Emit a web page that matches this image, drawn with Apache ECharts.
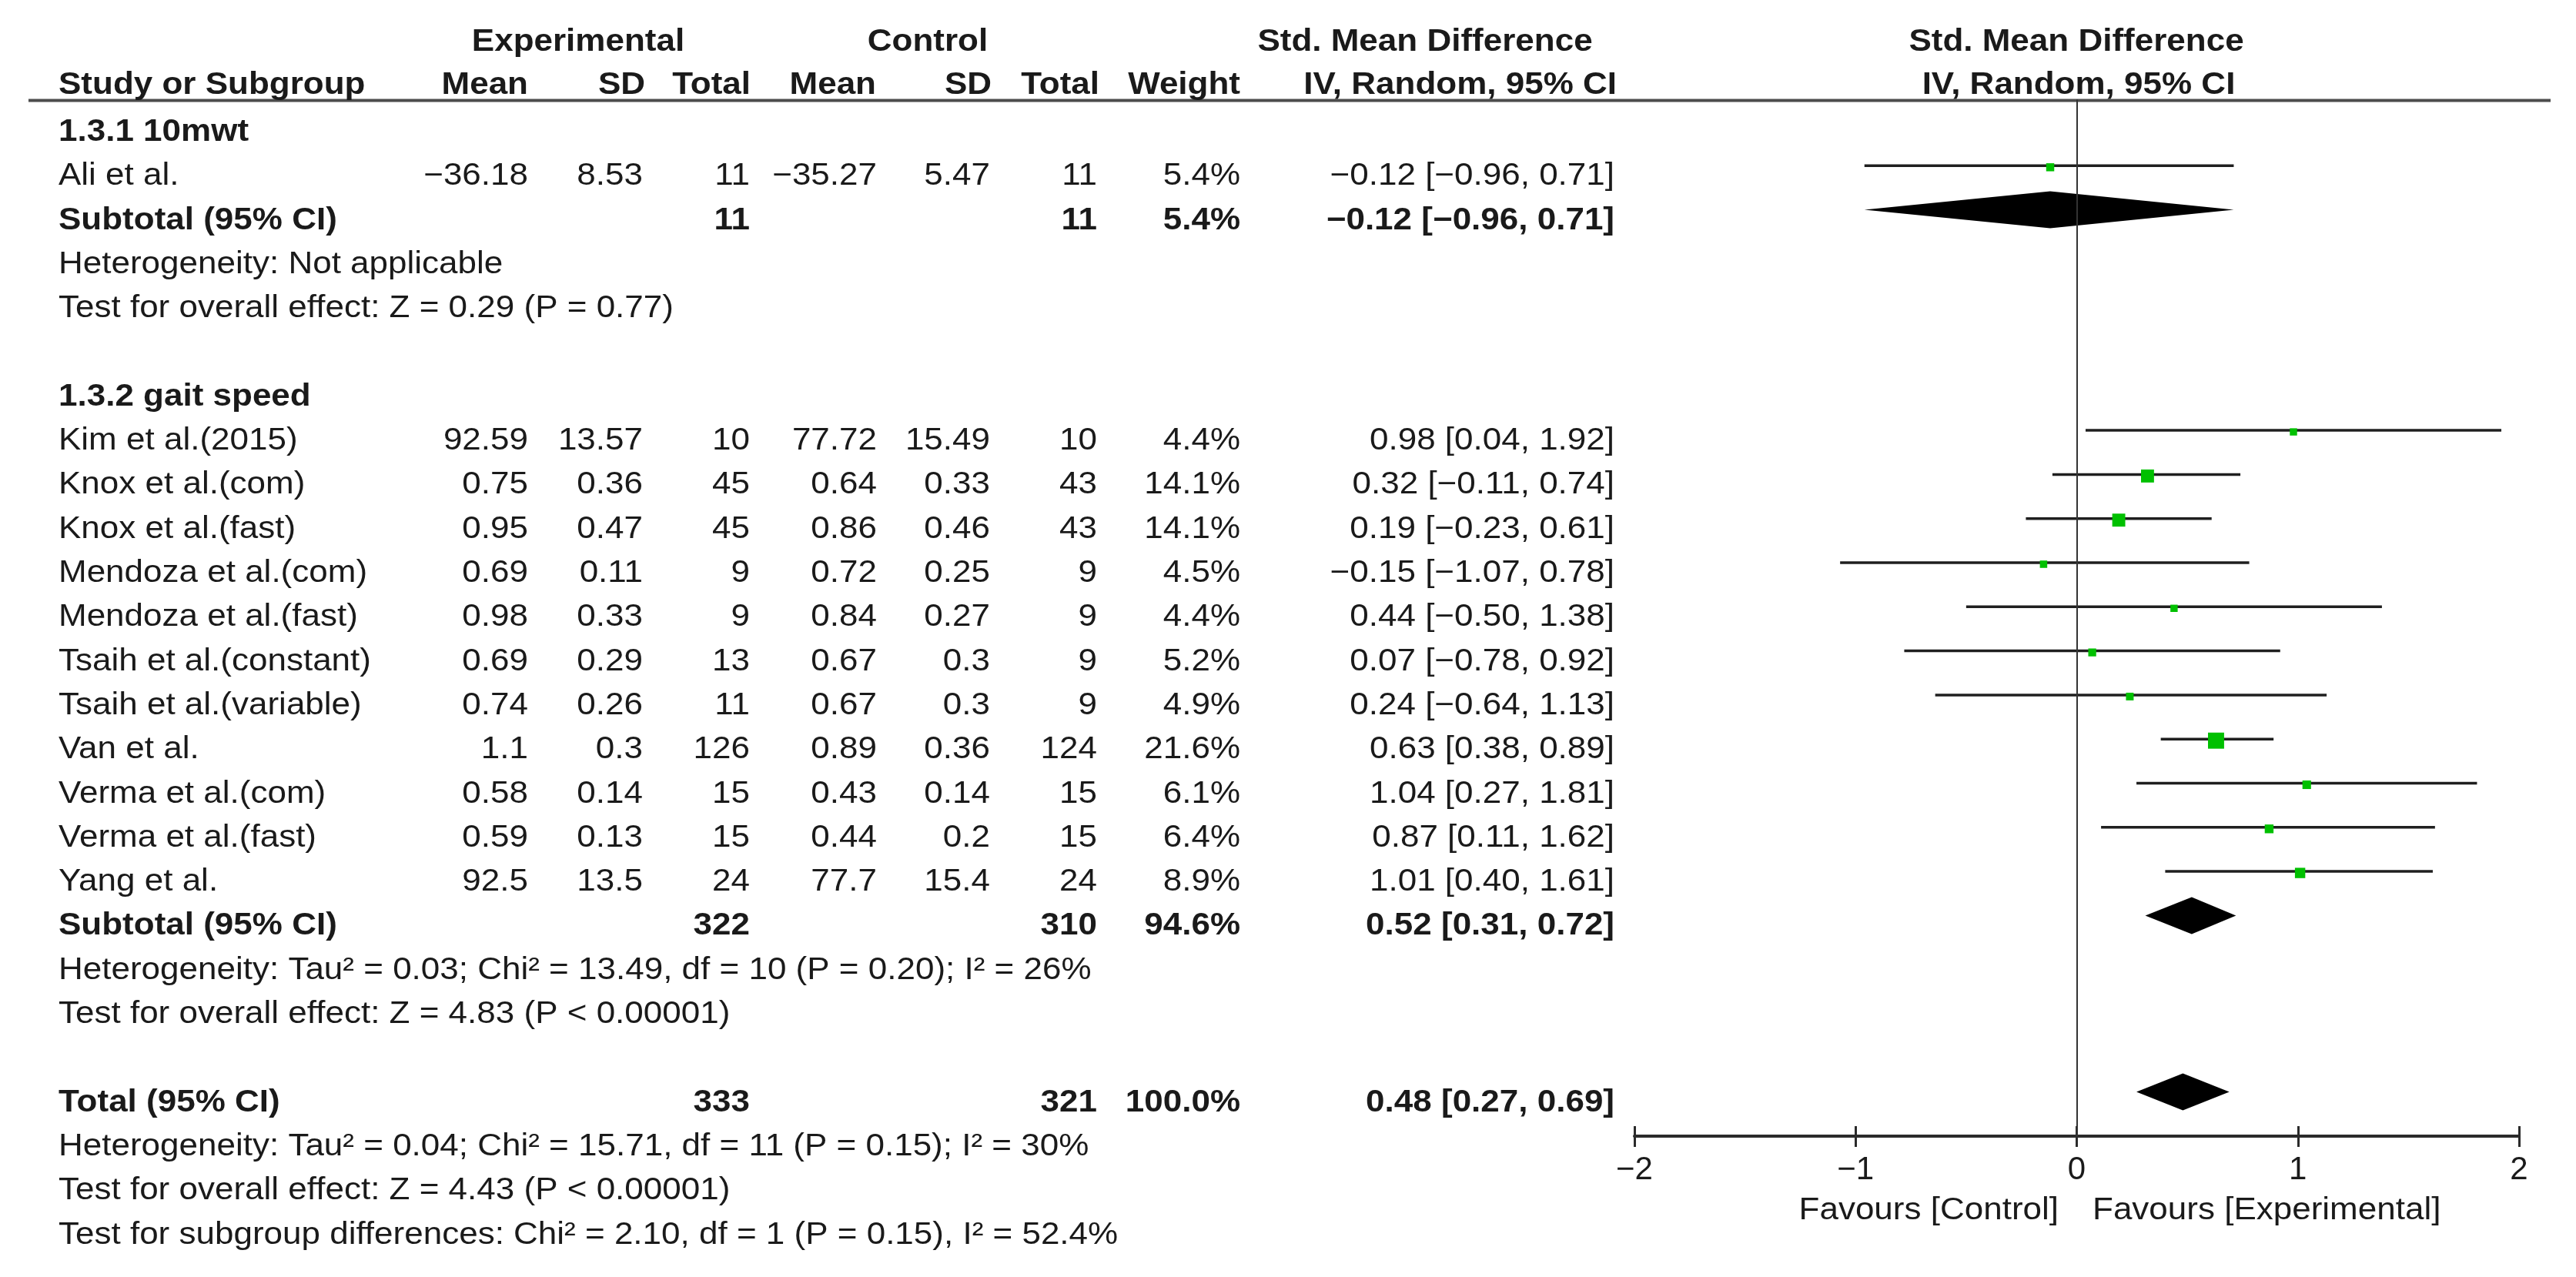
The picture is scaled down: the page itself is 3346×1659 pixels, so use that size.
<!DOCTYPE html>
<html>
<head>
<meta charset="utf-8">
<script src="https://cdn.jsdelivr.net/npm/echarts@6/dist/echarts.min.js"></script>
<style>
html, body { margin: 0; padding: 0; background: #fff; }
#chart { width: 3346px; height: 1659px; }
</style>
</head>
<body>
<div id="chart"></div>
<script>
// study rows
var studyNames = ['Ali et al.', 'Kim et al.(2015)', 'Knox et al.(com)', 'Knox et al.(fast)', 'Mendoza et al.(com)',
    'Mendoza et al.(fast)', 'Tsaih et al.(constant)', 'Tsaih et al.(variable)', 'Van et al.', 'Verma et al.(com)',
    'Verma et al.(fast)', 'Yang et al.'];
var studyRows = [1, 7, 8, 9, 10, 11, 12, 13, 14, 15, 16, 17];
var expMean = [-36.18, 92.59, 0.75, 0.95, 0.69, 0.98, 0.69, 0.74, 1.1, 0.58, 0.59, 92.5];
var expSD = [8.53, 13.57, 0.36, 0.47, 0.11, 0.33, 0.29, 0.26, 0.3, 0.14, 0.13, 13.5];
var expTotal = [11, 10, 45, 45, 9, 9, 13, 11, 126, 15, 15, 24];
var ctlMean = [-35.27, 77.72, 0.64, 0.86, 0.72, 0.84, 0.67, 0.67, 0.89, 0.43, 0.44, 77.7];
var ctlSD = [5.47, 15.49, 0.33, 0.46, 0.25, 0.27, 0.3, 0.3, 0.36, 0.14, 0.2, 15.4];
var ctlTotal = [11, 10, 43, 43, 9, 9, 9, 9, 124, 15, 15, 24];
var weight = [5.4, 4.4, 14.1, 14.1, 4.5, 4.4, 5.2, 4.9, 21.6, 6.1, 6.4, 8.9];
var smd = [-0.12, 0.98, 0.32, 0.19, -0.15, 0.44, 0.07, 0.24, 0.63, 1.04, 0.87, 1.01];
var ciLow = [-0.96, 0.04, -0.11, -0.23, -1.07, -0.50, -0.78, -0.64, 0.38, 0.27, 0.11, 0.40];
var ciHigh = [0.71, 1.92, 0.74, 0.61, 0.78, 1.38, 0.92, 1.13, 0.89, 1.81, 1.62, 1.61];

// subtotal / total rows
var pooledNames = ['Subtotal (95% CI)', 'Subtotal (95% CI)', 'Total (95% CI)'];
var pooledRows = [2, 18, 22];
var pooledExpTotal = [11, 322, 333];
var pooledCtlTotal = [11, 310, 321];
var pooledWeight = [5.4, 94.6, 100.0];
var pooledSmd = [-0.12, 0.52, 0.48];
var pooledLow = [-0.96, 0.31, 0.27];
var pooledHigh = [0.71, 0.72, 0.69];

var groupNames = ['1.3.1 10mwt', '1.3.2 gait speed'];
var groupRows = [0, 6];

var noteTexts = [
    'Heterogeneity: Not applicable',
    'Test for overall effect: Z = 0.29 (P = 0.77)',
    'Heterogeneity: Tau\u00b2 = 0.03; Chi\u00b2 = 13.49, df = 10 (P = 0.20); I\u00b2 = 26%',
    'Test for overall effect: Z = 4.83 (P < 0.00001)',
    'Heterogeneity: Tau\u00b2 = 0.04; Chi\u00b2 = 15.71, df = 11 (P = 0.15); I\u00b2 = 30%',
    'Test for overall effect: Z = 4.43 (P < 0.00001)',
    'Test for subgroup differences: Chi\u00b2 = 2.10, df = 1 (P = 0.15), I\u00b2 = 52.4%'
];
var noteRows = [3, 4, 19, 20, 23, 24, 25];

// layout
var FONT = '"Liberation Sans", Arial, sans-serif';
var FS = 40, SX = 1.1, INK = '#1a1a1a';
var col = { name: 76, expMean: 686, expSD: 835, expTotal: 974, ctlMean: 1139, ctlSD: 1286,
            ctlTotal: 1425, weight: 1611, ci: 2097 };
var plotGrid = { left: 2123, right: 74, top: 129.35, bottom: 183.1 };

function num(v) { return String(v).replace('-', '\u2212'); }
function f2(v) { return v.toFixed(2).replace('-', '\u2212'); }
function ciText(e, lo, hi) { return f2(e) + ' [' + f2(lo) + ', ' + f2(hi) + ']'; }

var cells = [];
function cell(row, x, text, align, bold) { cells.push({ row: row, x: x, text: text, align: align, bold: bold }); }

groupNames.forEach(function (g, i) { cell(groupRows[i], col.name, g, 'left', true); });
studyNames.forEach(function (n, i) {
    var r = studyRows[i];
    cell(r, col.name, n, 'left', false);
    cell(r, col.expMean, num(expMean[i]), 'right', false);
    cell(r, col.expSD, num(expSD[i]), 'right', false);
    cell(r, col.expTotal, num(expTotal[i]), 'right', false);
    cell(r, col.ctlMean, num(ctlMean[i]), 'right', false);
    cell(r, col.ctlSD, num(ctlSD[i]), 'right', false);
    cell(r, col.ctlTotal, num(ctlTotal[i]), 'right', false);
    cell(r, col.weight, weight[i].toFixed(1) + '%', 'right', false);
    cell(r, col.ci, ciText(smd[i], ciLow[i], ciHigh[i]), 'right', false);
});
pooledNames.forEach(function (n, i) {
    var r = pooledRows[i];
    cell(r, col.name, n, 'left', true);
    cell(r, col.expTotal, String(pooledExpTotal[i]), 'right', true);
    cell(r, col.ctlTotal, String(pooledCtlTotal[i]), 'right', true);
    cell(r, col.weight, pooledWeight[i].toFixed(1) + '%', 'right', true);
    cell(r, col.ci, ciText(pooledSmd[i], pooledLow[i], pooledHigh[i]), 'right', true);
});
noteTexts.forEach(function (t, i) { cell(noteRows[i], col.name, t, 'left', false); });

function txtStyle(text, align, bold) {
    return {
        text: text,
        font: (bold ? 'bold ' : '') + FS + 'px ' + FONT,
        fill: INK,
        textAlign: align, align: align,
        textVerticalAlign: 'middle', verticalAlign: 'middle'
    };
}
function headText(x, y, text, align, bold) {
    return { type: 'text', x: x, y: y, scaleX: SX, silent: true, style: txtStyle(text, align, bold) };
}

var chart = echarts.init(document.getElementById('chart'));

var option = {
    animation: false,
    backgroundColor: '#fff',
    // grid 1 sits on grid 0 only to carry the upward half of the ticks
    grid: [plotGrid, plotGrid],
    xAxis: [{
        gridIndex: 0, type: 'value', min: -2, max: 2, interval: 1, position: 'bottom',
        axisLine: { show: true, onZero: false, lineStyle: { color: '#2b2b2b', width: 4 } },
        axisTick: { show: true, length: 14, lineStyle: { color: '#2b2b2b', width: 3 } },
        axisLabel: {
            margin: 24, fontSize: 42, fontFamily: FONT, color: INK,
            formatter: function (v) { return num(v); }
        },
        splitLine: { show: false }
    }, {
        gridIndex: 1, type: 'value', min: -2, max: 2, interval: 1, position: 'bottom',
        axisLine: { show: false, onZero: false },
        axisTick: { show: true, inside: true, length: 13, lineStyle: { color: '#2b2b2b', width: 3 } },
        axisLabel: { show: false },
        splitLine: { show: false }
    }],
    yAxis: [
        { gridIndex: 0, type: 'value', inverse: true, min: -0.5, max: 23, show: false },
        { gridIndex: 1, type: 'value', inverse: true, min: -0.5, max: 23, show: false }
    ],
    graphic: [
        { type: 'line', silent: true, shape: { x1: 37, y1: 130.5, x2: 3313, y2: 130.5 },
          style: { stroke: '#4d4d4d', lineWidth: 4 } },
        headText(751, 55, 'Experimental', 'center', true),
        headText(1205, 55, 'Control', 'center', true),
        headText(1851, 55, 'Std. Mean Difference', 'center', true),
        headText(2697, 55, 'Std. Mean Difference', 'center', true),
        headText(col.name, 111, 'Study or Subgroup', 'left', true),
        headText(686, 111, 'Mean', 'right', true),
        headText(838, 111, 'SD', 'right', true),
        headText(975, 111, 'Total', 'right', true),
        headText(1138, 111, 'Mean', 'right', true),
        headText(1288, 111, 'SD', 'right', true),
        headText(1428, 111, 'Total', 'right', true),
        headText(1611, 111, 'Weight', 'right', true),
        headText(2100, 111, 'IV, Random, 95% CI', 'right', true),
        headText(2700, 111, 'IV, Random, 95% CI', 'center', true),
        headText(2674, 1573, 'Favours [Control]', 'right', false),
        headText(2718, 1573, 'Favours [Experimental]', 'left', false)
    ],
    series: [
        {
            // table body text, rows placed through the y axis
            type: 'custom',
            silent: true,
            clip: false,
            data: cells.map(function (c) { return [0, c.row]; }),
            renderItem: function (params, api) {
                var c = cells[params.dataIndex];
                var y = api.coord([0, api.value(1)])[1] + 14;
                return { type: 'text', x: c.x, y: y, scaleX: SX, style: txtStyle(c.text, c.align, c.bold) };
            },
            markLine: {
                silent: true, symbol: 'none', label: { show: false },
                lineStyle: { color: '#333', width: 2, type: 'solid' },
                data: [{ xAxis: 0 }]
            }
        },
        {
            // confidence interval whiskers
            type: 'custom',
            silent: true,
            data: studyNames.map(function (n, i) { return [ciLow[i], ciHigh[i], studyRows[i]]; }),
            renderItem: function (params, api) {
                var a = api.coord([api.value(0), api.value(2)]);
                var b = api.coord([api.value(1), api.value(2)]);
                return { type: 'line', shape: { x1: a[0], y1: a[1], x2: b[0], y2: b[1] },
                         style: { stroke: '#1f1f1f', lineWidth: 3.5 } };
            }
        },
        {
            // study estimates, box size from weight
            type: 'scatter',
            silent: true,
            symbol: 'rect',
            symbolOffset: [0, 2],
            symbolSize: function (val) { return 4.5 * Math.sqrt(val[2]); },
            itemStyle: { color: '#00c000', opacity: 1 },
            data: studyNames.map(function (n, i) { return [smd[i], studyRows[i], weight[i]]; })
        },
        {
            // pooled diamonds
            type: 'custom',
            silent: true,
            data: pooledNames.map(function (n, i) { return [pooledLow[i], pooledSmd[i], pooledHigh[i], pooledRows[i]]; }),
            renderItem: function (params, api) {
                var r = api.value(3), h = 24;
                var l = api.coord([api.value(0), r]);
                var m = api.coord([api.value(1), r]);
                var rr = api.coord([api.value(2), r]);
                return { type: 'polygon',
                         shape: { points: [[l[0], l[1]], [m[0], m[1] - h], [rr[0], rr[1]], [m[0], m[1] + h]] },
                         style: { fill: '#000' } };
            }
        }
    ]
};
chart.setOption(option);
</script>
</body>
</html>
